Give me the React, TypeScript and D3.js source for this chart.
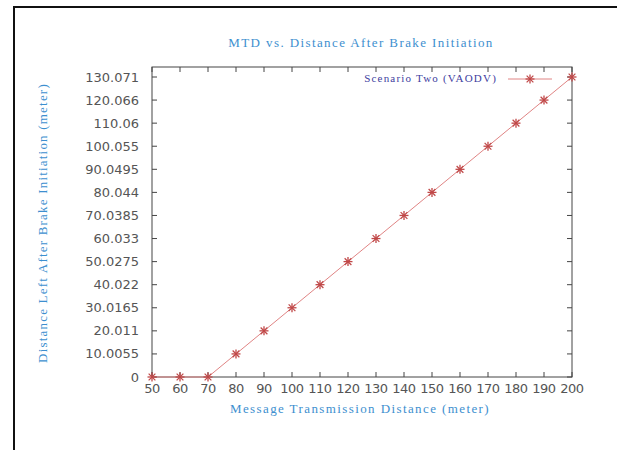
import React from "react";
import * as d3 from "d3";

const xValues = [50, 60, 70, 80, 90, 100, 110, 120, 130, 140, 150, 160, 170, 180, 190, 200];
const yValues = [0, 0, 0, 10.0055, 20.011, 30.0165, 40.022, 50.0275, 60.033, 70.0385, 80.044, 90.0495, 100.055, 110.06, 120.066, 130.071];
const yTickValues = [0, 10.0055, 20.011, 30.0165, 40.022, 50.0275, 60.033, 70.0385, 80.044, 90.0495, 100.055, 110.06, 120.066, 130.071];
const yTickLabels = ["0", "10.0055", "20.011", "30.0165", "40.022", "50.0275", "60.033", "70.0385", "80.044", "90.0495", "100.055", "110.06", "120.066", "130.071"];
const xTickValues = [50, 60, 70, 80, 90, 100, 110, 120, 130, 140, 150, 160, 170, 180, 190, 200];
const title = "MTD vs. Distance After Brake Initiation";
const xLabel = "Message Transmission Distance (meter)";
const yLabel = "Distance Left After Brake Initiation (meter)";
const seriesName = "Scenario Two (VAODV)";

const W = 617, H = 450;
const left = 152, right = 572, top = 67, bottom = 377;

export default function App() {
  const x = d3.scaleLinear().domain([50, 200]).range([left, right]);
  const y = d3.scaleLinear().domain([0, 130.071]).range([bottom, 77]);
  const line = d3.line<number>().x((_, i) => x(xValues[i])).y((d) => y(d));
  const lineColor = "#e08484";
  const markColor = "#c04848";
  const star = (cx: number, cy: number, k: string) => {
    const s = 4.5;
    return (
      <g key={k} stroke={markColor} strokeWidth={1.3}>
        <line x1={cx - s} x2={cx + s} y1={cy} y2={cy} />
        <line x1={cx} x2={cx} y1={cy - s} y2={cy + s} />
        <line x1={cx - s * 0.75} x2={cx + s * 0.75} y1={cy - s * 0.75} y2={cy + s * 0.75} />
        <line x1={cx - s * 0.75} x2={cx + s * 0.75} y1={cy + s * 0.75} y2={cy - s * 0.75} />
      </g>
    );
  };
  const tickFont = "DejaVu Sans, sans-serif";
  const serif = "Liberation Serif, serif";
  return (
    <svg width={W} height={H} style={{ position: "absolute", left: 0, top: 0, background: "#fff" }}>
      <rect x={0} y={0} width={W} height={H} fill="#fff" />
      <line x1={14} x2={14} y1={6} y2={H} stroke="#111" strokeWidth={2} />
      <line x1={13} x2={W} y1={7} y2={7} stroke="#111" strokeWidth={2} />
      <text x={361} y={47} textAnchor="middle" fontFamily={serif} fontSize={13} letterSpacing={1.4} fill="#3d8fcf">{title}</text>
      <rect x={left} y={top} width={right - left} height={bottom - top} fill="none" stroke="#444" strokeWidth={1} />
      {yTickValues.map((v, i) => (
        <g key={"y" + i}>
          <line x1={left} x2={left + 5} y1={y(v)} y2={y(v)} stroke="#444" />
          <line x1={right} x2={right - 5} y1={y(v)} y2={y(v)} stroke="#444" />
          <text x={139} y={y(v) + 4.5} textAnchor="end" fontFamily={tickFont} fontSize={13} fill="#555">{yTickLabels[i]}</text>
        </g>
      ))}
      {xTickValues.map((v, i) => (
        <g key={"x" + i}>
          <line x1={x(v)} x2={x(v)} y1={bottom} y2={bottom - 5} stroke="#444" />
          <line x1={x(v)} x2={x(v)} y1={top} y2={top + 5} stroke="#444" />
          <text x={x(v)} y={bottom + 16} textAnchor="middle" fontFamily={tickFont} fontSize={13} fill="#555" letterSpacing={-0.5}>{String(v)}</text>
        </g>
      ))}
      <text x={360} y={413} textAnchor="middle" fontFamily={serif} fontSize={13} letterSpacing={1.4} fill="#3d8fcf">{xLabel}</text>
      <text transform={`translate(47,223) rotate(-90)`} textAnchor="middle" fontFamily={serif} fontSize={13} letterSpacing={1.2} fill="#3d8fcf">{yLabel}</text>
      <path d={line(yValues) || ""} fill="none" stroke={lineColor} strokeWidth={1} />
      {yValues.map((v, i) => star(x(xValues[i]), y(v), "p" + i))}
      <text x={497} y={82} textAnchor="end" fontFamily={serif} fontSize={11} letterSpacing={1.2} fill="#4040a0">{seriesName}</text>
      <line x1={508} x2={552} y1={79} y2={79} stroke={lineColor} />
      {star(530, 79, "leg")}
    </svg>
  );
}
